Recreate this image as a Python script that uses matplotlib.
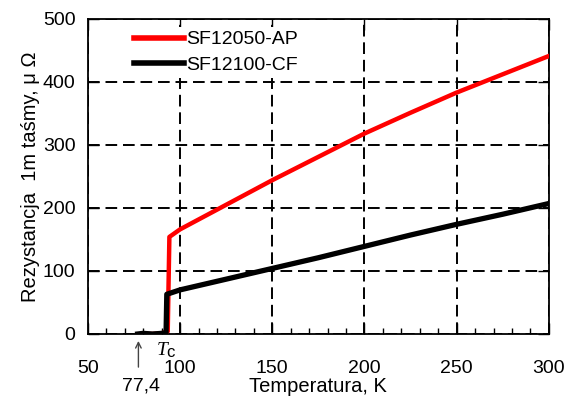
import matplotlib.pyplot as plt
from matplotlib.ticker import MultipleLocator
import matplotlib.transforms as mtransforms

plt.rcParams['font.family'] = ['Liberation Sans', 'DejaVu Sans']

# Dane
temp_ap = [80, 85, 90, 93.3, 94.2, 100, 125, 150, 175, 200, 225, 250, 275, 300]
res_ap = [0, 0, 1, 4, 154, 166, 205, 244, 281, 318, 351, 383, 412, 441]

temp_cf = [77, 80, 85, 90, 92.4, 92.8, 100, 125, 150, 175, 200, 225, 250, 275, 300]
res_cf = [0, 1, 0, 1, 2, 63, 70, 87, 104, 121, 139, 157, 174, 190, 207]

labels = ['SF12050-AP', 'SF12100-CF']
t_boil = 77.4

fig = plt.figure(figsize=(5.67, 4.0), dpi=100)
ax = fig.add_axes([0.155, 0.165, 0.813, 0.788])

ax.plot(temp_ap, res_ap, '-', color='#ff0000', lw=3.2, label=labels[0], zorder=3)
ax.plot(temp_cf, res_cf, '-', color='black', lw=3.8, label=labels[1], zorder=4)

ax.set_xlim(50, 300)
ax.set_ylim(0, 500)
ax.xaxis.set_major_locator(MultipleLocator(50))
ax.xaxis.set_minor_locator(MultipleLocator(10))
ax.yaxis.set_major_locator(MultipleLocator(100))

ax.grid(True, which='major', color='black', linestyle=(0, (6, 3)), linewidth=1.4)
ax.tick_params(axis='both', which='major', direction='in', length=8, width=1,
               labelsize=14, top=True, right=True)
ax.tick_params(axis='x', which='minor', direction='in', length=4, width=1)
ax.tick_params(axis='x', which='major', pad=19)
ax.tick_params(axis='y', which='major', pad=9)
for s in ax.spines.values():
    s.set_linewidth(1.3)

ax.set_xlabel('Temperatura, K', fontsize=14.5, labelpad=0)
ax.set_ylabel('Rezystancja  1m taśmy, μ Ω', fontsize=14.5, labelpad=2)

# legenda z białym tłem (zasłania siatkę)
leg = ax.legend(loc='upper left', bbox_to_anchor=(0.07, 1.005), frameon=True,
                facecolor='white', edgecolor='none', framealpha=1, fancybox=False,
                borderpad=0.2, fontsize=14, handlelength=2.6, handletextpad=0.1,
                labelspacing=0.42)
for line in leg.get_lines():
    line.set_linewidth(4)

# Adnotacje pod osią
trans = mtransforms.blended_transform_factory(ax.transData, ax.transAxes)
ax.annotate('', xy=(t_boil, -0.022), xytext=(t_boil, -0.105),
            xycoords=trans, textcoords=trans,
            arrowprops=dict(arrowstyle='->', color='#444444', lw=1,
                            shrinkA=0, shrinkB=0))
ax.text(t_boil + 1.5, -0.165, '77,4', transform=trans, ha='center', va='center',
        fontsize=14, clip_on=False)
ax.text(90.5, -0.052, 'T', transform=trans, ha='center', va='center', fontsize=14,
        family='Liberation Serif', style='italic', clip_on=False)
ax.text(95.0, -0.058, 'c', transform=trans, ha='center', va='center', fontsize=12,
        clip_on=False)

fig.savefig('out.png', dpi=100)
